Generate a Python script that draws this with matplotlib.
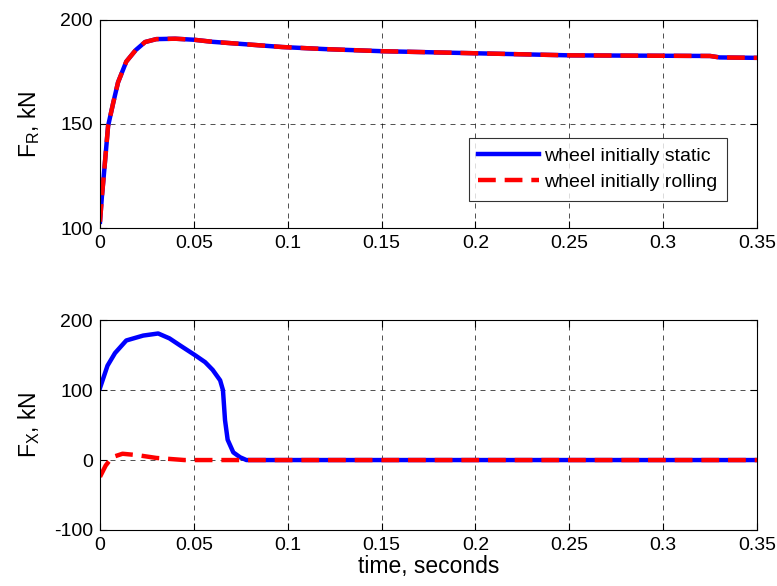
import matplotlib
matplotlib.use("Agg")
import matplotlib.pyplot as plt

plt.rcParams['font.family'] = ['Liberation Sans', 'DejaVu Sans']
plt.rcParams['axes.unicode_minus'] = False

# radial force, both cases overlap
t_r = [0, 0.001, 0.002, 0.0043, 0.007, 0.0096, 0.014, 0.019, 0.024, 0.030,
       0.04, 0.05, 0.06, 0.075, 0.097, 0.12, 0.15, 0.2, 0.25, 0.3, 0.325, 0.33, 0.35]
fr_static = [103, 115, 125, 149, 160, 170, 180, 185.5, 189.4, 190.8,
             191, 190.5, 189.5, 188.5, 187, 186, 185, 184, 183, 182.8, 182.7, 182, 181.8]
fr_rolling = list(fr_static)

# longitudinal force
t_x_static = [0, 0.004, 0.008, 0.014, 0.023, 0.031, 0.037, 0.0426, 0.0506, 0.056,
              0.060, 0.064, 0.0655, 0.0666, 0.068, 0.071, 0.0746, 0.078, 0.35]
fx_static = [103, 135, 153, 171, 178, 181, 174, 164, 150, 140,
             129, 114, 100, 57, 29, 11, 4, 0, 0]
t_x_rolling = [0, 0.003, 0.0064, 0.012, 0.02, 0.03, 0.045, 0.35]
fx_rolling = [-24, -8, 4, 9, 7, 3, 0, 0]

fig = plt.figure(figsize=(7.77, 5.86), dpi=100)
ax1 = fig.add_axes([0.1287, 0.6109, 0.8456, 0.355])
ax2 = fig.add_axes([0.1287, 0.0956, 0.8456, 0.358])

for ax in (ax1, ax2):
    ax.set_xlim(0, 0.35)
    ax.set_xticks([0, 0.05, 0.1, 0.15, 0.2, 0.25, 0.3, 0.35])
    ax.set_xticklabels(['0', '0.05', '0.1', '0.15', '0.2', '0.25', '0.3', '0.35'])
    ax.grid(True, color='black', linestyle=(0, (6, 6)), linewidth=0.6, alpha=0.8)
    ax.tick_params(direction='in', labelsize=14, length=5, top=True, right=True, pad=5)
    for s in ax.spines.values():
        s.set_linewidth(0.8)

ax1.plot(t_r, fr_static, color='blue', lw=3.2, label='wheel initially static')
ax1.plot(t_r, fr_rolling, color='red', lw=3.2, dashes=(4, 2), label='wheel initially rolling')
ax1.set_ylim(100, 200)
ax1.set_yticks([100, 150, 200])
ax1.set_ylabel('F$_\\mathregular{R}$, kN', fontsize=16.5)
ax1.yaxis.set_label_coords(-0.089, 0.5)
leg = ax1.legend(loc='lower right', bbox_to_anchor=(0.955, 0.13), fontsize=14,
                 frameon=True, fancybox=False, edgecolor='black', handlelength=3.1,
                 handletextpad=0.3, borderpad=0.5, labelspacing=0.45, borderaxespad=0)
leg.get_frame().set_linewidth(0.8)

ax2.plot(t_x_static, fx_static, color='blue', lw=3.2)
ax2.plot(t_x_rolling, fx_rolling, color='red', lw=3.2, dashes=(4, 2))
ax2.set_ylim(-100, 200)
ax2.set_yticks([-100, 0, 100, 200])
ax2.set_ylabel('F$_\\mathregular{X}$, kN', fontsize=16.5)
ax2.yaxis.set_label_coords(-0.089, 0.5)
ax2.set_xlabel('time, seconds', fontsize=16.5, labelpad=1)

fig.savefig('out.png', dpi=100)
